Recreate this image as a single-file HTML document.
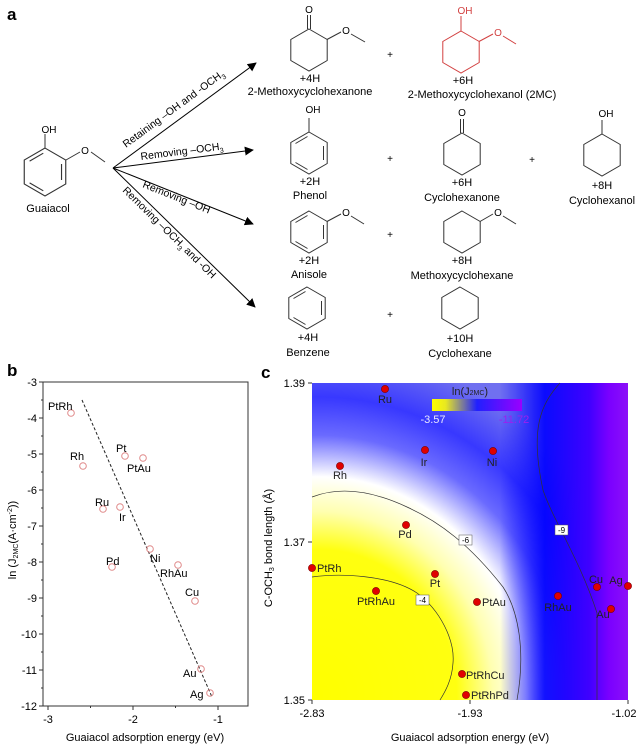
<!DOCTYPE html>
<html><head><meta charset="utf-8"><style>
html,body{margin:0;padding:0;background:#fff;}
svg{display:block;font-family:"Liberation Sans",Arial,sans-serif;}
</style></head><body>
<svg width="640" height="746" viewBox="0 0 640 746" xmlns="http://www.w3.org/2000/svg">
<defs>
<polygon id="hx" points="0,-21 18.2,-10.5 18.2,10.5 0,21 -18.2,10.5 -18.2,-10.5" fill="none" stroke="#333" stroke-width="1"/>
<g id="bz">
<use href="#hx"/>
<path d="M14.5,-7 L14.5,7 M-1.5,16.5 L-13.5,9.5 M-13.5,-9.5 L-1.5,-16.5" stroke="#333" stroke-width="1" fill="none"/>
</g>
<marker id="ah" viewBox="0 0 10 10" refX="9" refY="5" markerWidth="9" markerHeight="9" orient="auto" markerUnits="userSpaceOnUse"><path d="M0,0 L10,5 L0,10 z" fill="#000"/></marker>
<radialGradient id="hm" gradientUnits="userSpaceOnUse" cx="318" cy="695" r="330" gradientTransform="translate(318 695) scale(1 1.05) translate(-318 -695)">
<stop offset="0" stop-color="#ffff00"/>
<stop offset="0.42" stop-color="#ffff10"/>
<stop offset="0.53" stop-color="#ffffb0"/>
<stop offset="0.63" stop-color="#ffffff"/>
<stop offset="0.75" stop-color="#6a6aff"/>
<stop offset="0.86" stop-color="#3838ff"/>
<stop offset="1" stop-color="#7070f0"/>
</radialGradient>
<linearGradient id="pu" gradientUnits="userSpaceOnUse" x1="500" y1="0" x2="628" y2="0">
<stop offset="0" stop-color="#0000ff" stop-opacity="0"/>
<stop offset="0.35" stop-color="#0000ff" stop-opacity="0.9"/>
<stop offset="0.7" stop-color="#4000ff" stop-opacity="1"/>
<stop offset="0.85" stop-color="#7a00ff"/>
<stop offset="1" stop-color="#8c10f8"/>
</linearGradient>
<linearGradient id="cb" x1="0" y1="0" x2="1" y2="0">
<stop offset="0" stop-color="#ffff00"/>
<stop offset="0.15" stop-color="#e8e820"/>
<stop offset="0.5" stop-color="#2020ff"/>
<stop offset="1" stop-color="#9a00ff"/>
</linearGradient>
</defs>

<!-- Panel a -->
<text x="7" y="20" font-size="17" font-weight="bold">a</text>
<g transform="translate(45,172) scale(1.14)"><use href="#bz"/></g>
<line x1="45" y1="148" x2="45" y2="134" stroke="#333"/>
<text x="49" y="133" font-size="10" text-anchor="middle">OH</text>
<line x1="66" y1="160" x2="80" y2="152" stroke="#333"/>
<text x="85" y="154" font-size="10" text-anchor="middle">O</text>
<line x1="91" y1="152" x2="105" y2="162" stroke="#333"/>
<text x="48" y="212" font-size="11" text-anchor="middle">Guaiacol</text>

<g stroke="#000" stroke-width="1" fill="none">
<line x1="113" y1="168" x2="256" y2="63" marker-end="url(#ah)"/>
<line x1="113" y1="168" x2="253" y2="150" marker-end="url(#ah)"/>
<line x1="113" y1="168" x2="253" y2="224" marker-end="url(#ah)"/>
<line x1="113" y1="168" x2="255" y2="307" marker-end="url(#ah)"/>
</g>
<text font-size="10.5" transform="translate(126,148) rotate(-36.3)">Retaining –OH and -OCH<tspan font-size="7" dy="3">3</tspan></text>
<text font-size="10.5" transform="translate(141,160) rotate(-7.3)">Removing –OCH<tspan font-size="7" dy="3">3</tspan></text>
<text font-size="10.5" transform="translate(142,187) rotate(21.8)">Removing –OH</text>
<text font-size="10.5" transform="translate(122,191) rotate(44.4)">Removing –OCH<tspan font-size="7" dy="3">3</tspan><tspan dy="-3"> and -OH</tspan></text>

<g transform="translate(309,50)"><use href="#hx"/></g>
<path d="M307.5,29 V15 M310.5,29 V15" stroke="#333"/>
<text x="309" y="13" font-size="10" text-anchor="middle">O</text>
<line x1="327" y1="39.5" x2="341" y2="32" stroke="#333"/>
<text x="346" y="34" font-size="10" text-anchor="middle">O</text>
<line x1="351" y1="34" x2="365" y2="42" stroke="#333"/>
<text x="310" y="82" font-size="11" text-anchor="middle">+4H</text>
<text x="310" y="95" font-size="11" text-anchor="middle">2-Methoxycyclohexanone</text>
<text x="390" y="58" font-size="10" text-anchor="middle">+</text>
<g transform="translate(461,52)"><polygon points="0,-21 18.2,-10.5 18.2,10.5 0,21 -18.2,10.5 -18.2,-10.5" fill="none" stroke="#d24040" stroke-width="1"/></g>
<line x1="461" y1="31" x2="461" y2="16" stroke="#d24040"/>
<text x="465" y="14" font-size="10" text-anchor="middle" fill="#d24040">OH</text>
<line x1="479" y1="41.5" x2="493" y2="34" stroke="#d24040"/>
<text x="498" y="36" font-size="10" text-anchor="middle" fill="#d24040">O</text>
<line x1="503" y1="36" x2="516" y2="44" stroke="#d24040"/>
<text x="463" y="84" font-size="11" text-anchor="middle">+6H</text>
<text x="482" y="98" font-size="11" text-anchor="middle">2-Methoxycyclohexanol  (2MC)</text>

<g transform="translate(309,153)"><use href="#bz"/></g>
<line x1="309" y1="132" x2="309" y2="118" stroke="#333"/>
<text x="313" y="113" font-size="10" text-anchor="middle">OH</text>
<text x="310" y="185" font-size="11" text-anchor="middle">+2H</text>
<text x="310" y="199" font-size="11" text-anchor="middle">Phenol</text>
<text x="390" y="162" font-size="10" text-anchor="middle">+</text>
<g transform="translate(462,154)"><use href="#hx"/></g>
<path d="M460.5,133 V119 M463.5,133 V119" stroke="#333"/>
<text x="462" y="116" font-size="10" text-anchor="middle">O</text>
<text x="462" y="186" font-size="11" text-anchor="middle">+6H</text>
<text x="462" y="201" font-size="11" text-anchor="middle">Cyclohexanone</text>
<text x="532" y="163" font-size="10" text-anchor="middle">+</text>
<g transform="translate(602,155)"><use href="#hx"/></g>
<line x1="602" y1="134" x2="602" y2="120" stroke="#333"/>
<text x="606" y="117" font-size="10" text-anchor="middle">OH</text>
<text x="602" y="189" font-size="11" text-anchor="middle">+8H</text>
<text x="602" y="204" font-size="11" text-anchor="middle">Cyclohexanol</text>

<g transform="translate(309,232)"><use href="#bz"/></g>
<line x1="327" y1="221.5" x2="341" y2="214" stroke="#333"/>
<text x="346" y="216" font-size="10" text-anchor="middle">O</text>
<line x1="351" y1="216" x2="364" y2="224" stroke="#333"/>
<text x="309" y="264" font-size="11" text-anchor="middle">+2H</text>
<text x="309" y="278" font-size="11" text-anchor="middle">Anisole</text>
<text x="390" y="238" font-size="10" text-anchor="middle">+</text>
<g transform="translate(462,232)"><use href="#hx"/></g>
<line x1="480" y1="221.5" x2="493" y2="214" stroke="#333"/>
<text x="498" y="216" font-size="10" text-anchor="middle">O</text>
<line x1="503" y1="216" x2="516" y2="224" stroke="#333"/>
<text x="462" y="264" font-size="11" text-anchor="middle">+8H</text>
<text x="462" y="279" font-size="11" text-anchor="middle">Methoxycyclohexane</text>

<g transform="translate(307,308)"><use href="#bz"/></g>
<text x="308" y="341" font-size="11" text-anchor="middle">+4H</text>
<text x="308" y="356" font-size="11" text-anchor="middle">Benzene</text>
<text x="390" y="318" font-size="10" text-anchor="middle">+</text>
<g transform="translate(460,308)"><use href="#hx"/></g>
<text x="460" y="342" font-size="11" text-anchor="middle">+10H</text>
<text x="460" y="357" font-size="11" text-anchor="middle">Cyclohexane</text>

<!-- Panel b -->
<text x="7" y="376" font-size="17" font-weight="bold">b</text>
<rect x="43" y="382" width="205" height="324" fill="none" stroke="#333" stroke-width="1"/>
<g stroke="#333" stroke-width="1">
<path d="M39,382H43M39,418H43M39,454H43M39,490H43M39,526H43M39,562H43M39,598H43M39,634H43M39,670H43M39,706H43"/>
<path d="M41,400H43M41,436H43M41,472H43M41,508H43M41,544H43M41,580H43M41,616H43M41,652H43M41,688H43"/>
<path d="M48,706V710M133,706V710M218,706V710M90.5,706V708M175.5,706V708"/>
</g>
<g font-size="11" text-anchor="end">
<text x="37" y="386">-3</text><text x="37" y="422">-4</text><text x="37" y="458">-5</text><text x="37" y="494">-6</text><text x="37" y="530">-7</text><text x="37" y="566">-8</text><text x="37" y="602">-9</text><text x="37" y="638">-10</text><text x="37" y="674">-11</text><text x="37" y="710">-12</text>
</g>
<g font-size="11" text-anchor="middle">
<text x="48" y="723">-3</text><text x="133" y="723">-2</text><text x="218" y="723">-1</text>
</g>
<text x="145" y="741" font-size="11" text-anchor="middle">Guaiacol adsorption energy (eV)</text>
<text font-size="11" text-anchor="middle" transform="translate(16,540) rotate(-90)">ln (J<tspan font-size="7" dy="2">2MC</tspan><tspan dy="-2">(A·cm</tspan><tspan font-size="7" dy="-4">-2</tspan><tspan dy="4">))</tspan></text>
<line x1="82" y1="400" x2="212" y2="697" stroke="#222" stroke-dasharray="3,2"/>
<g fill="none" stroke="#e08a8a" stroke-width="1">
<circle cx="71" cy="413" r="3.3"/><circle cx="83" cy="466" r="3.3"/><circle cx="125" cy="456" r="3.3"/><circle cx="143" cy="458" r="3.3"/><circle cx="103" cy="509" r="3.3"/><circle cx="120" cy="507" r="3.3"/><circle cx="112" cy="567" r="3.3"/><circle cx="150" cy="549" r="3.3"/><circle cx="178" cy="565" r="3.3"/><circle cx="195" cy="601" r="3.3"/><circle cx="201" cy="669" r="3.3"/><circle cx="210" cy="693" r="3.3"/>
</g>
<g font-size="11">
<text x="48" y="410">PtRh</text><text x="70" y="460">Rh</text><text x="116" y="452">Pt</text><text x="127" y="472">PtAu</text><text x="95" y="506">Ru</text><text x="119" y="521">Ir</text><text x="106" y="565">Pd</text><text x="150" y="562">Ni</text><text x="160" y="577">RhAu</text><text x="185" y="596">Cu</text><text x="183" y="677">Au</text><text x="190" y="698">Ag</text>
</g>

<!-- Panel c -->
<text x="261" y="378" font-size="17" font-weight="bold">c</text>
<rect x="312" y="383" width="316" height="317" fill="url(#hm)"/>
<rect x="312" y="383" width="316" height="317" fill="url(#pu)"/>
<g fill="none" stroke="#333" stroke-width="0.7">
<path d="M312,577 C340,573 390,575 417,593 C440,610 455,640 453,663 C452,680 445,692 440,700"/>
<path d="M312,497 C330,490 360,485 407,507 C440,522 470,545 503,587 C518,610 526,650 517,700"/>
<path d="M560,383 C540,405 530,430 543,490 C553,520 580,560 597,613 L597,700"/>
</g>
<g font-size="8" text-anchor="middle">
<rect x="416" y="595" width="13" height="10" fill="#fff" stroke="#555" stroke-width="0.5"/><text x="422.5" y="603">-4</text>
<rect x="459" y="535" width="13" height="10" fill="#fff" stroke="#555" stroke-width="0.5"/><text x="465.5" y="543">-6</text>
<rect x="555" y="525" width="13" height="10" fill="#fff" stroke="#555" stroke-width="0.5"/><text x="561.5" y="533">-9</text>
</g>
<rect x="432" y="399" width="90" height="12" fill="url(#cb)"/>
<text x="470" y="395" font-size="11" text-anchor="middle" fill="#222">ln(J<tspan font-size="7">2MC</tspan>)</text>
<text x="433" y="423" font-size="11" text-anchor="middle" fill="#e8e8ff">-3.57</text>
<text x="514" y="423" font-size="11" text-anchor="middle" fill="#9a20f0">-11.72</text>
<g stroke="#333" stroke-width="1">
<path d="M308,383H312M308,542H312M308,700H312M312,700V704M470,700V704M628,700V704"/>
</g>
<g font-size="11" text-anchor="end">
<text x="305" y="387">1.39</text><text x="305" y="546">1.37</text><text x="305" y="704">1.35</text>
</g>
<g font-size="11" text-anchor="middle">
<text x="312" y="717">-2.83</text><text x="470" y="717">-1.93</text><text x="624" y="717">-1.02</text>
</g>
<text x="470" y="741" font-size="11" text-anchor="middle">Guaiacol adsorption energy (eV)</text>
<text font-size="11" text-anchor="middle" transform="translate(272,548) rotate(-90)">C-OCH<tspan font-size="7" dy="2">3</tspan><tspan dy="-2"> bond length (Å)</tspan></text>
<g fill="#e00000" stroke="#700" stroke-width="0.6">
<circle cx="385" cy="389" r="3.6"/><circle cx="425" cy="450" r="3.6"/><circle cx="493" cy="451" r="3.6"/><circle cx="340" cy="466" r="3.6"/><circle cx="406" cy="525" r="3.6"/><circle cx="312" cy="568" r="3.6"/><circle cx="435" cy="574" r="3.6"/><circle cx="376" cy="591" r="3.6"/><circle cx="477" cy="602" r="3.6"/><circle cx="558" cy="596" r="3.6"/><circle cx="597" cy="587" r="3.6"/><circle cx="628" cy="586" r="3.6"/><circle cx="611" cy="609" r="3.6"/><circle cx="462" cy="674" r="3.6"/><circle cx="466" cy="695" r="3.6"/>
</g>
<g font-size="11" fill="#222">
<text x="385" y="403" text-anchor="middle">Ru</text><text x="424" y="466" text-anchor="middle">Ir</text><text x="492" y="466" text-anchor="middle">Ni</text><text x="340" y="479" text-anchor="middle">Rh</text><text x="405" y="538" text-anchor="middle">Pd</text><text x="317" y="572">PtRh</text><text x="435" y="587" text-anchor="middle">Pt</text><text x="376" y="605" text-anchor="middle">PtRhAu</text><text x="482" y="606">PtAu</text><text x="558" y="611" text-anchor="middle">RhAu</text><text x="596" y="583" text-anchor="middle">Cu</text><text x="616" y="584" text-anchor="middle">Ag</text><text x="603" y="618" text-anchor="middle">Au</text><text x="466" y="679">PtRhCu</text><text x="471" y="699">PtRhPd</text>
</g>
</svg>
</body></html>
